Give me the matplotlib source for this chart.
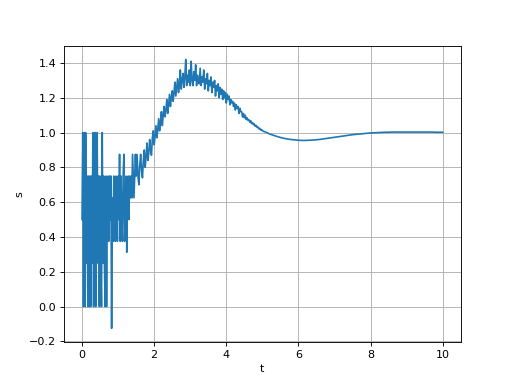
import numpy as np
import matplotlib
matplotlib.use("Agg")
import matplotlib.pyplot as plt

# Early quantized segment: t = 0.00 .. 1.48, step 0.02
s_early = [0.5, 1.0, 0.0, 1.0, 0.0, 1.0, 0.25, 0.75, 0.0, 0.75, 0.0, 0.75, 0.0,
           0.75, 0.25, 1.0, 0.0, 0.75, 1.0, 0.0, 0.75, 1.0, 0.25,
           0.75, 0.0, 0.75, 0.25, 0.0, 1.0, 0.25, 0.75, 0.25,
           0.0, 0.75, 0.0, 0.625, 0.75, 0.375, 0.75, 0.5, 0.75, -0.125,
           0.625, 0.375, 0.75, 0.5, 0.375, 0.75, 0.625, 0.375, 0.75,
           0.5, 0.875, 0.375, 0.75, 0.5, 0.375, 0.75, 0.875, 0.375, 0.625,
           0.75, 0.3125, 0.625, 0.75, 0.5, 0.75, 0.625, 0.75, 0.625, 0.875,
           0.75, 0.625, 0.75, 0.875]
t_early_start, t_early_step = 0.0, 0.02

# Noisy rising / overshoot segment: t = 1.5 .. 4.975, step 0.025
s_mid = [0.75, 0.875, 0.75, 0.70, 0.81, 0.875, 0.78, 0.74, 0.84, 0.90,
         0.80, 0.86, 0.94, 0.84, 0.88, 0.96, 0.90, 0.87, 0.97, 1.01,
         0.93, 0.98, 1.04, 0.97, 1.02, 1.08, 1.01, 1.06, 1.12, 1.04,
         1.10, 1.15, 1.09, 1.13, 1.19, 1.11, 1.16, 1.22, 1.15, 1.20,
         1.24, 1.18, 1.23, 1.29, 1.21, 1.26, 1.31, 1.23, 1.28, 1.36,
         1.25, 1.30, 1.34, 1.26, 1.32, 1.42, 1.27, 1.33, 1.29, 1.36,
         1.27, 1.41, 1.30, 1.27, 1.35, 1.30, 1.39, 1.27, 1.33, 1.30,
         1.28, 1.37, 1.27, 1.32, 1.29, 1.36, 1.25, 1.31, 1.28, 1.34,
         1.24, 1.30, 1.27, 1.32, 1.23, 1.29, 1.26, 1.30, 1.21, 1.27,
         1.24, 1.28, 1.20, 1.26, 1.22, 1.25, 1.19, 1.24, 1.20, 1.23,
         1.17, 1.22, 1.19, 1.21, 1.16, 1.19, 1.17, 1.18, 1.15, 1.17,
         1.13, 1.16, 1.14, 1.15, 1.11, 1.14, 1.12, 1.12, 1.09, 1.11,
         1.085, 1.10, 1.075, 1.085, 1.07, 1.075, 1.06, 1.068, 1.052, 1.058,
         1.045, 1.05, 1.036, 1.042, 1.03, 1.032, 1.022, 1.025, 1.015, 1.018]
t_mid_start, t_mid_step = 1.5, 0.025

# Settling segment: t = 5.0 .. 10.0, step 0.1
s_tail = [1.01, 1.002, 0.992, 0.985, 0.978, 0.972, 0.967, 0.963, 0.960, 0.958,
          0.956, 0.955, 0.955, 0.956, 0.957, 0.959, 0.961, 0.964, 0.967, 0.970,
          0.973, 0.976, 0.979, 0.982, 0.985, 0.988, 0.990, 0.992, 0.994, 0.996,
          0.998, 0.999, 1.000, 1.001, 1.002, 1.002, 1.003, 1.003, 1.003, 1.003,
          1.003, 1.003, 1.003, 1.003, 1.003, 1.003, 1.003, 1.003, 1.002, 1.002,
          1.002]
t_tail_start, t_tail_step = 5.0, 0.1

t = np.concatenate([
    t_early_start + t_early_step * np.arange(len(s_early)),
    t_mid_start + t_mid_step * np.arange(len(s_mid)),
    t_tail_start + t_tail_step * np.arange(len(s_tail)),
])
s = np.concatenate([s_early, s_mid, s_tail])

fig = plt.figure(figsize=(6.4, 4.8), dpi=80)
ax = fig.add_subplot(111)
ax.plot(t, s)
ax.set_xlabel('t')
ax.set_ylabel('s')
ax.grid(True)
fig.savefig('out.png', dpi=80)
